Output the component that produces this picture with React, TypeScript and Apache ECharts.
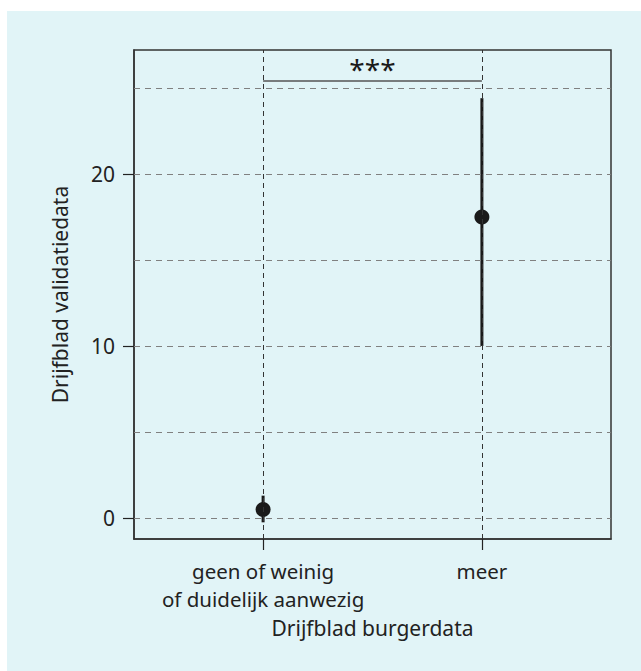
import React, { useEffect, useRef } from "react";
import * as echarts from "echarts";

const categories = ["geen of weinig\nof duidelijk aanwezig", "meer"];
const xPositions = [1, 2];
const means = [0.5, 17.5];
const lowers = [-0.25, 10.0];
const uppers = [1.3, 24.4];
const yTickValues = [0, 10, 20];
const gridValues = [0, 5, 10, 15, 20, 25];
const bracketY = 25.4;
const signifLabel = "***";
const xTitle = "Drijfblad burgerdata";
const yTitle = "Drijfblad validatiedata";

const FONT = "'Noto Sans', sans-serif";
const TEXT = "#222222";

export default function App() {
  const ref = useRef<HTMLDivElement>(null);

  useEffect(() => {
    document.body.style.margin = "0";
    if (!ref.current) return;
    const chart = echarts.init(ref.current, null, { renderer: "svg" });
    const option: any = {
      animation: false,
      backgroundColor: "transparent",
      textStyle: { fontFamily: FONT },
      grid: {
        left: 134,
        top: 50,
        right: 30,
        bottom: 132,
        show: true,
        backgroundColor: "transparent",
        borderColor: "#333",
        borderWidth: 1.5,
      },
      xAxis: {
        type: "value",
        min: 0.41,
        max: 2.59,
        name: xTitle,
        nameLocation: "middle",
        nameGap: 76,
        nameTextStyle: { fontSize: 21, color: TEXT, fontFamily: FONT },
        axisLine: { show: true, onZero: false, lineStyle: { color: "#333", width: 1.5 } },
        axisTick: {
          show: true,
          customValues: xPositions,
          length: 11,
          lineStyle: { color: "#222", width: 1.2 },
        },
        axisLabel: {
          customValues: xPositions,
          formatter: (v: number) => categories[Math.round(v) - 1] ?? "",
          margin: 18,
          lineHeight: 28,
          fontSize: 20.5,
          color: TEXT,
          fontFamily: FONT,
        },
        splitLine: { show: false },
      },
      yAxis: {
        type: "value",
        min: -1.22,
        max: 27.2,
        name: yTitle,
        nameLocation: "middle",
        nameGap: 64,
        nameTextStyle: { fontSize: 21, color: TEXT, fontFamily: FONT },
        axisLine: { show: true, onZero: false, lineStyle: { color: "#333", width: 1.5 } },
        axisTick: {
          show: true,
          customValues: yTickValues,
          length: 11,
          lineStyle: { color: "#222", width: 1.2 },
        },
        axisLabel: {
          customValues: yTickValues,
          margin: 19,
          fontSize: 21,
          color: TEXT,
          fontFamily: FONT,
        },
        splitLine: { show: false },
      },
      series: [
        {
          type: "scatter",
          data: [],
          z: 1,
          markLine: {
            silent: true,
            symbol: ["none", "none"],
            label: { show: false },
            lineStyle: { type: [6, 5], color: "#808080", width: 1.2 },
            data: gridValues.map((v) => ({ yAxis: v })),
          },
        },
        {
          type: "scatter",
          data: [],
          z: 1,
          markLine: {
            silent: true,
            symbol: ["none", "none"],
            label: { show: false },
            lineStyle: { type: [5, 4], color: "#333333", width: 1 },
            data: xPositions.map((v) => ({ xAxis: v })),
          },
        },
        {
          type: "custom",
          z: 2,
          data: xPositions.map((x, i) => [x, lowers[i], uppers[i]]),
          encode: { x: 0, y: [1, 2] },
          renderItem: (params: any, api: any) => {
            const lo = api.coord([api.value(0), api.value(1)]);
            const hi = api.coord([api.value(0), api.value(2)]);
            return {
              type: "line",
              shape: { x1: lo[0], y1: lo[1], x2: hi[0], y2: hi[1] },
              style: { stroke: "#1a1a1a", lineWidth: 3 },
            };
          },
        },
        {
          type: "scatter",
          z: 3,
          symbolSize: 15,
          itemStyle: { color: "#1a1a1a", opacity: 1 },
          data: xPositions.map((x, i) => [x, means[i]]),
        },
        {
          type: "custom",
          z: 3,
          data: [[xPositions[0], xPositions[1], bracketY]],
          encode: { x: [0, 1], y: 2 },
          renderItem: (params: any, api: any) => {
            const a = api.coord([api.value(0), api.value(2)]);
            const b = api.coord([api.value(1), api.value(2)]);
            return {
              type: "group",
              children: [
                {
                  type: "line",
                  shape: { x1: a[0], y1: a[1], x2: b[0], y2: b[1] },
                  style: { stroke: "#555555", lineWidth: 1.5 },
                },
                {
                  type: "text",
                  x: (a[0] + b[0]) / 2,
                  y: a[1] + 2,
                  style: {
                    text: signifLabel,
                    fill: "#1a1a1a",
                    fontSize: 28,
                    fontFamily: FONT,
                    align: "center",
                    verticalAlign: "bottom",
                  },
                },
              ],
            };
          },
        },
      ],
    };
    chart.setOption(option);
    return () => chart.dispose();
  }, []);

  return (
    <div style={{ position: "relative", width: 641, height: 671, background: "#ffffff", overflow: "hidden" }}>
      <div style={{ position: "absolute", left: 7, top: 11, width: 634, height: 660, background: "#e1f4f7" }} />
      <div ref={ref} style={{ position: "absolute", left: 0, top: 0, width: 641, height: 671 }} />
    </div>
  );
}
